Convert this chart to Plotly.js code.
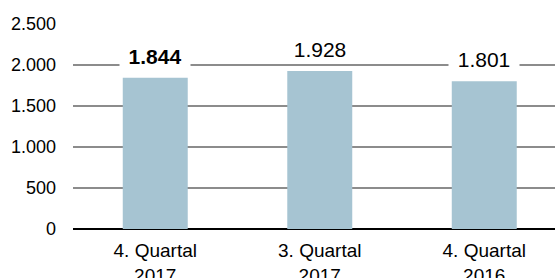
<!DOCTYPE html>
<html><head><meta charset="utf-8">
<script src="https://cdn.plot.ly/plotly-3.0.1.min.js"></script>
<style>html,body{margin:0;padding:0;background:#fff}#c{width:555px;height:278px}</style>
</head><body><div id="c"></div>
<script>
const categories = ["4. Quartal<br>2017", "3. Quartal<br>2017", "4. Quartal<br>2016"];
const values = [1844, 1928, 1801];
const labels = ["<b>1.844</b>", "1.928", "1.801"];
const tickVals = [0, 500, 1000, 1500, 2000, 2500];
const tickText = ["0", "500", "1.000", "1.500", "2.000", "2.500"];

const trace = {
  type: 'bar', x: [0,1,2], y: values, width: 0.395,
  marker: {color: '#a6c4d2'}, hoverinfo: 'none'
};
const annotations = values.map((v, i) => ({
  x: i, y: v, xref: 'x', yref: 'y', text: labels[i], showarrow: false,
  yshift: 22, bgcolor: '#ffffff', borderpad: 0,
  width: 70, height: 26,
  font: {family: 'Liberation Sans, Arial, sans-serif', size: 21, color: '#000'}
}));
const layout = {
  width: 555, height: 278,
  margin: {l: 73, r: 0, t: 24, b: 49},
  paper_bgcolor: '#fff', plot_bgcolor: '#fff',
  showlegend: false,
  font: {family: 'Liberation Sans, Arial, sans-serif', size: 18, color: '#000'},
  xaxis: {
    range: [-0.5, 2.43], tickvals: [0,1,2], ticktext: categories,
    showgrid: false, zeroline: false, showline: false, ticks: '',
    ticklabelstandoff: 8,
    tickfont: {size: 19}, fixedrange: true
  },
  yaxis: {
    range: [0, 2500], tickvals: tickVals, ticktext: tickText,
    showgrid: true, gridcolor: '#8c8c8c', gridwidth: 1.5,
    zeroline: true, zerolinecolor: '#000', zerolinewidth: 2.5,
    showline: false, ticks: '', ticklabelstandoff: 16,
    tickfont: {size: 18}, fixedrange: true
  },
  annotations: annotations
};
Plotly.newPlot('c', [trace], layout, {staticPlot: true, displayModeBar: false});
</script></body></html>
